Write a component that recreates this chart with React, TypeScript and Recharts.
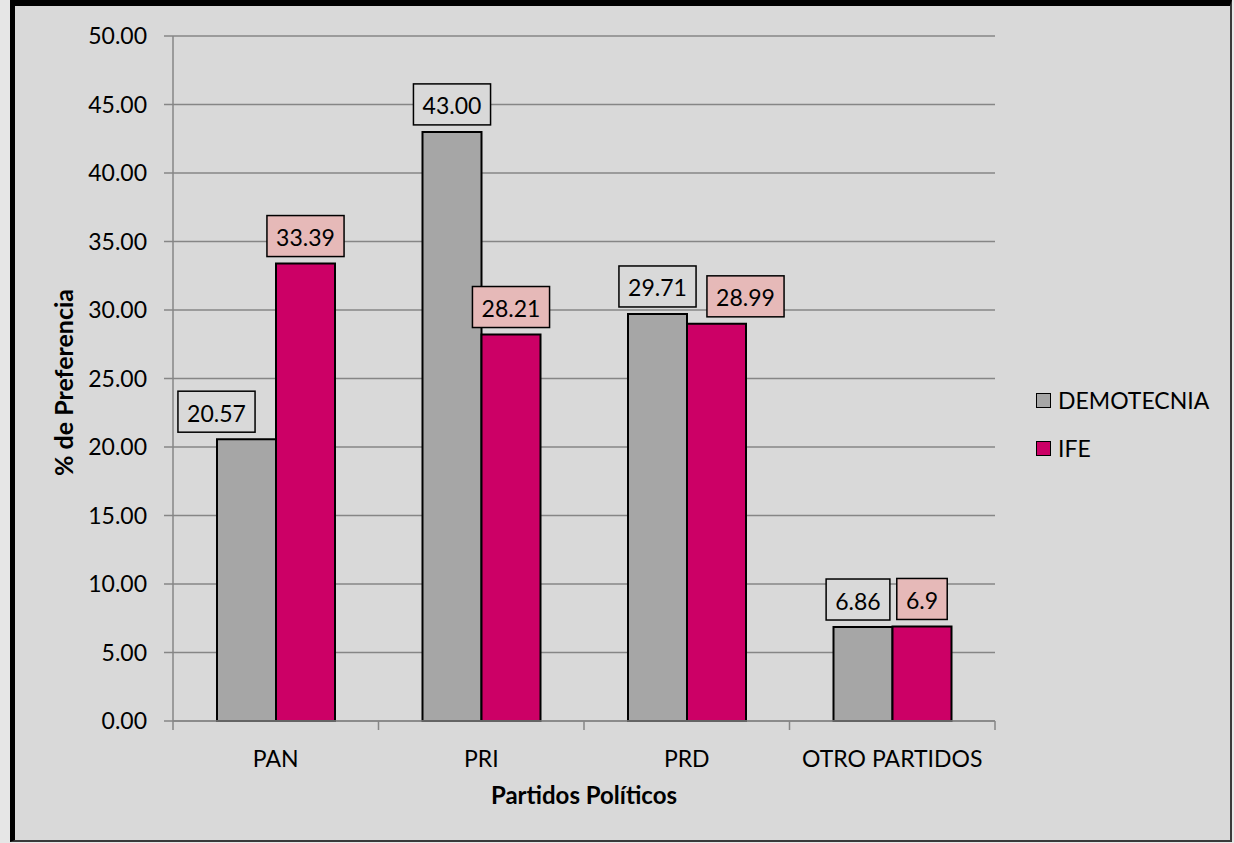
import React from "react";
import { BarChart, Bar, XAxis, YAxis, CartesianGrid, Legend, LabelList, Label } from "recharts";

const categories = ["PAN", "PRI", "PRD", "OTRO PARTIDOS"];
const demotecnia = [20.57, 43.0, 29.71, 6.86];
const ife = [33.39, 28.21, 28.99, 6.9];
const demotecniaLabels = ["20.57", "43.00", "29.71", "6.86"];
const ifeLabels = ["33.39", "28.21", "28.99", "6.9"];
const yTicks = [0, 5, 10, 15, 20, 25, 30, 35, 40, 45, 50];

const data = categories.map((name, i) => ({
  name,
  DEMOTECNIA: demotecnia[i],
  IFE: ife[i],
}));

const W = 1234;
const H = 843;
const PLOT_LEFT = 173;
const PLOT_RIGHT = 995;
const PLOT_TOP = 36;
const PLOT_BOTTOM = 721;
const GRID = "#868686";
const GRAY = "#a6a6a6";
const MAGENTA = "#cc0066";
const FONT = "Lato, 'Open Sans', sans-serif";
const FS = 23;

// label nudges, excel moves some boxes sideways so they don't collide
const nudgeDemo = [-30, 0, 0, -5];
const nudgeIfe = [0, 0, 29, 0];

const textWidth = (t: string) =>
  t.split("").reduce((s, c) => s + (c === "." ? 0.25 : 0.58) * FS, 0);

const makeLabel =
  (texts: string[], fill: string, nudge: number[]) => (props: any) => {
    const { x, y, width, index } = props;
    const t = texts[index];
    const w = textWidth(t) + 18;
    const h = 41;
    const cx = Number(x) + Number(width) / 2 + nudge[index];
    const top = Number(y) - 7 - h;
    return (
      <g>
        <rect x={cx - w / 2} y={top} width={w} height={h} fill={fill} stroke="#000" strokeWidth={1.5} />
        <text x={cx} y={top + h / 2 + 1} textAnchor="middle" dominantBaseline="central" fontSize={FS} fontFamily={FONT} fill="#000">
          {t}
        </text>
      </g>
    );
  };

const halfBand = (PLOT_RIGHT - PLOT_LEFT) / categories.length / 2;

const CategoryTick = (props: any) => {
  const { x, y, payload, index } = props;
  return (
    <g>
      <line x1={x - halfBand} x2={x - halfBand} y1={y} y2={y + 9} stroke={GRID} strokeWidth={1.5} />
      {index === categories.length - 1 && (
        <line x1={x + halfBand} x2={x + halfBand} y1={y} y2={y + 9} stroke={GRID} strokeWidth={1.5} />
      )}
      <text x={x} y={y + 37} textAnchor="middle" dominantBaseline="central" fontSize={FS} fontFamily={FONT} fill="#000">
        {payload.value}
      </text>
    </g>
  );
};

const LegendBox = (props: any) => {
  const items = [
    { name: "DEMOTECNIA", color: GRAY },
    { name: "IFE", color: MAGENTA },
  ];
  return (
    <div style={{ fontFamily: FONT, fontSize: FS, color: "#000" }}>
      {items.map((it) => (
        <div key={it.name} style={{ display: "flex", alignItems: "center", height: 48 }}>
          <span
            style={{
              width: 13,
              height: 13,
              background: it.color,
              border: "1.5px solid #000",
              marginRight: 7,
              display: "inline-block",
            }}
          />
          <span>{it.name}</span>
        </div>
      ))}
    </div>
  );
};

export default function App() {
  return (
    <div style={{ position: "absolute", left: 0, top: 0, width: W, height: H, background: "#e6e6e6" }}>
      <div
        style={{
          position: "absolute",
          left: 10,
          top: 0,
          width: 1222,
          height: 842,
          boxSizing: "border-box",
          background: "#d9d9d9",
          borderLeft: "5px solid #000",
          borderTop: "6px solid #000",
          borderRight: "2px solid #3a3a3a",
          borderBottom: "2px solid #3a3a3a",
        }}
      />
      <div style={{ position: "absolute", left: 0, top: 0 }}>
        <BarChart
          width={W}
          height={H}
          data={data}
          margin={{ top: PLOT_TOP, right: W - PLOT_RIGHT, bottom: 0, left: 0 }}
          barGap={0}
          barSize={59}
        >
          <CartesianGrid vertical={false} stroke={GRID} strokeWidth={1.5} />
          <XAxis
            dataKey="name"
            height={H - PLOT_BOTTOM}
            axisLine={{ stroke: GRID, strokeWidth: 1.5 }}
            tickLine={false}
            tickSize={0}
            tickMargin={0}
            tick={<CategoryTick />}
            interval={0}
          >
            <Label
              value="Partidos Políticos"
              position="center"
              dy={13}
              style={{ fontFamily: FONT, fontSize: 24, fontWeight: 700, fill: "#000" }}
            />
          </XAxis>
          <YAxis
            width={PLOT_LEFT}
            domain={[0, 50]}
            ticks={yTicks}
            interval={0}
            tickFormatter={(v: number) => v.toFixed(2)}
            axisLine={{ stroke: GRID, strokeWidth: 1.5 }}
            tickLine={{ stroke: GRID, strokeWidth: 1.5 }}
            tickSize={9}
            tickMargin={17}
            tick={{ fill: "#000", fontSize: FS, fontFamily: FONT }}
          >
            <Label
              value="% de Preferencia"
              angle={-90}
              position="center"
              dx={-22}
              dy={4}
              style={{ fontFamily: FONT, fontSize: 25, fontWeight: 700, fill: "#000", textAnchor: "middle" }}
            />
          </YAxis>
          <Legend
            layout="vertical"
            align="center"
            verticalAlign="middle"
            wrapperStyle={{ left: 1036, top: 376, width: 190 }}
            content={<LegendBox />}
          />
          <Bar dataKey="DEMOTECNIA" fill={GRAY} stroke="#000" strokeWidth={2} isAnimationActive={false}>
            <LabelList dataKey="DEMOTECNIA" content={makeLabel(demotecniaLabels, "#d9d9d9", nudgeDemo)} />
          </Bar>
          <Bar dataKey="IFE" fill={MAGENTA} stroke="#000" strokeWidth={2} isAnimationActive={false}>
            <LabelList dataKey="IFE" content={makeLabel(ifeLabels, "#e6b9b8", nudgeIfe)} />
          </Bar>
        </BarChart>
      </div>
    </div>
  );
}
